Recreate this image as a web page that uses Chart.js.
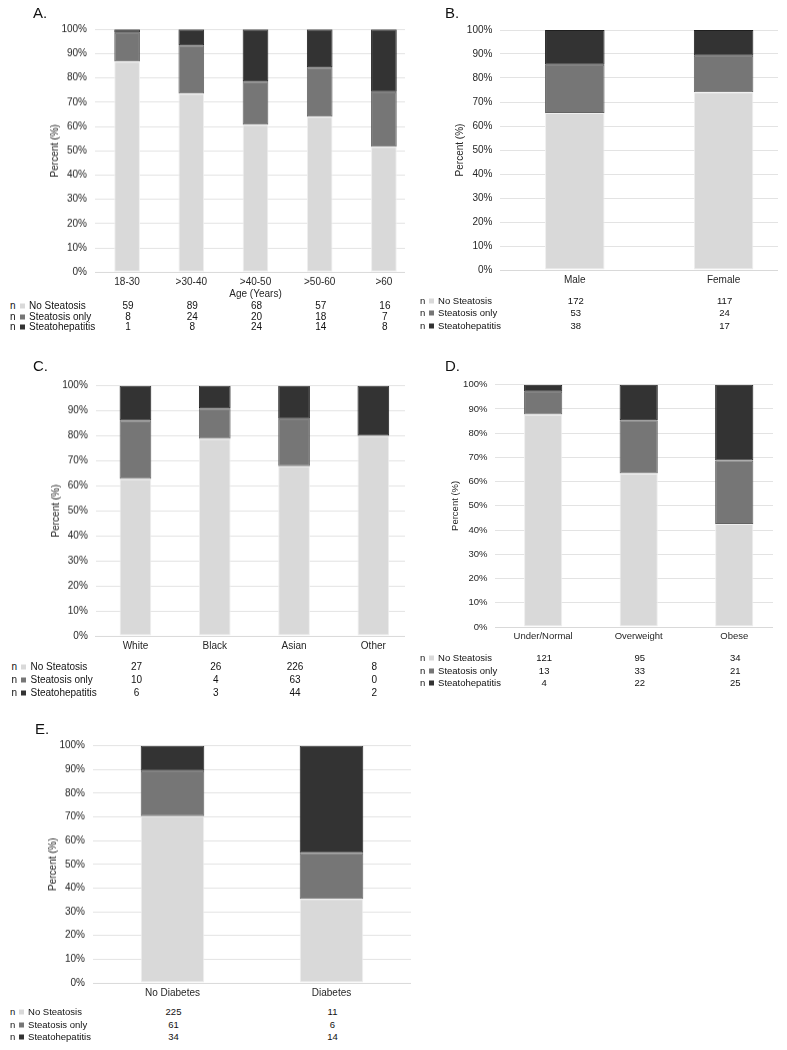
<!DOCTYPE html>
<html>
<head>
<meta charset="utf-8">
<script src="https://cdn.jsdelivr.net/npm/chart.js@4.4.0/dist/chart.umd.min.js"></script>
<style>
  body { margin: 0; background: #fff; font-family: "Liberation Sans", Arial, sans-serif; color: #111; }
  #page { position: relative; width: 787px; height: 1050px; overflow: hidden; }
  .wrap { position: absolute; overflow: hidden; }
  .wrap canvas { position: absolute; left: 0; top: 0; }
  .txt { position: absolute; white-space: nowrap; line-height: 1; transform: translateY(-50%); }
  .val { position: absolute; white-space: nowrap; line-height: 1; transform: translate(-50%, -50%); }
  .sw { position: absolute; width: 5px; height: 5px; transform: translateY(-50%); }
</style>
</head>
<body>
<div id="page"></div>
<script>
// table rows / stack order (bottom to top)
const seriesNames = ['No Steatosis', 'Steatosis only', 'Steatohepatitis'];
const percentTicks = [0, 10, 20, 30, 40, 50, 60, 70, 80, 90, 100];

// A. age
const ageLabels = ['18-30', '>30-40', '>40-50', '>50-60', '>60'];
const ageNoSteatosis = [59, 89, 68, 57, 16];
const ageSteatosisOnly = [8, 24, 20, 18, 7];
const ageSteatohepatitis = [1, 8, 24, 14, 8];

// B. sex
const sexLabels = ['Male', 'Female'];
const sexNoSteatosis = [172, 117];
const sexSteatosisOnly = [53, 24];
const sexSteatohepatitis = [38, 17];

// C. race
const raceLabels = ['White', 'Black', 'Asian', 'Other'];
const raceNoSteatosis = [27, 26, 226, 8];
const raceSteatosisOnly = [10, 4, 63, 0];
const raceSteatohepatitis = [6, 3, 44, 2];

// D. BMI
const bmiLabels = ['Under/Normal', 'Overweight', 'Obese'];
const bmiNoSteatosis = [121, 95, 34];
const bmiSteatosisOnly = [13, 33, 21];
const bmiSteatohepatitis = [4, 22, 25];

// E. diabetes
const dmLabels = ['No Diabetes', 'Diabetes'];
const dmNoSteatosis = [225, 11];
const dmSteatosisOnly = [61, 6];
const dmSteatohepatitis = [34, 14];

const fills = ['#d9d9d9', '#767676', '#333333'];
const edges = ['#efefef', '#636363', '#1f1f1f'];
const FONT = '"Liberation Sans", Arial, sans-serif';
const TEXT = '#262626';

// fs = axis text size, ts = table text size
const panels = [
  { name: 'A.', labels: ageLabels, counts: [ageNoSteatosis, ageSteatosisOnly, ageSteatohepatitis], xTitle: 'Age (Years)',
    wrap: { l: 0, t: 0, r: 405 }, plot: { l: 95, r: 416, t: 29.3, b: 271.7 }, bottom: 299.5, fs: 10, ts: 10,
    head: [33, 12], rows: [306, 316.5, 327], rowX: 10 },
  { name: 'B.', labels: sexLabels, counts: [sexNoSteatosis, sexSteatosisOnly, sexSteatohepatitis],
    wrap: { l: 410, t: 0, r: 778 }, plot: { l: 500.4, r: 798, t: 30, b: 270 }, fs: 10, ts: 9.5,
    head: [445, 12], rows: [300.5, 313, 326], rowX: 420 },
  { name: 'C.', labels: raceLabels, counts: [raceNoSteatosis, raceSteatosisOnly, raceSteatohepatitis],
    wrap: { l: 0, t: 352, r: 405 }, plot: { l: 95.8, r: 413, t: 385.7, b: 635.7 }, fs: 10, ts: 10,
    head: [33, 365], rows: [666.7, 680, 693.3], rowX: 11.5 },
  { name: 'D.', labels: bmiLabels, counts: [bmiNoSteatosis, bmiSteatosisOnly, bmiSteatohepatitis],
    wrap: { l: 410, t: 352, r: 773 }, plot: { l: 495.4, r: 782, t: 384.7, b: 627.3 }, fs: 9.5, ts: 9.5,
    head: [445, 365], rows: [658.3, 671, 683.3], rowX: 420 },
  { name: 'E.', labels: dmLabels, counts: [dmNoSteatosis, dmSteatosisOnly, dmSteatohepatitis],
    wrap: { l: 0, t: 715, r: 411 }, plot: { l: 93, r: 411, t: 745.7, b: 982.7 }, fs: 10, ts: 9.5,
    head: [35, 728], rows: [1012.3, 1025, 1037.3], rowX: 10 }
];

// share of each group, in percent
function toPercent(counts) {
  return counts.map(series => series.map((v, i) => {
    let total = 0;
    counts.forEach(s => { total += s[i]; });
    return 100 * v / total;
  }));
}

const page = document.getElementById('page');

function addText(text, x, y, size, cls) {
  const el = document.createElement('div');
  el.className = cls;
  el.textContent = text;
  el.style.left = x + 'px';
  el.style.top = y + 'px';
  el.style.fontSize = size + 'px';
  page.appendChild(el);
  return el;
}

panels.forEach(p => {
  const bottom = p.bottom || p.plot.b + 20;
  const H = bottom - p.wrap.t;
  const W = p.plot.r + 2 - p.wrap.l;

  const wrap = document.createElement('div');
  wrap.className = 'wrap';
  wrap.style.left = p.wrap.l + 'px';
  wrap.style.top = p.wrap.t + 'px';
  wrap.style.width = (p.wrap.r - p.wrap.l) + 'px';
  wrap.style.height = H + 'px';
  const cv = document.createElement('canvas');
  cv.width = W; cv.height = H;
  cv.style.width = W + 'px'; cv.style.height = H + 'px';
  wrap.appendChild(cv);
  page.appendChild(wrap);

  const lh = p.fs * 1.2;
  const padLeft = p.plot.l - p.wrap.l - 40 - lh / 2;
  const pct = toPercent(p.counts);

  const chart = new Chart(cv, {
    type: 'bar',
    data: {
      labels: p.labels,
      datasets: seriesNames.map((n, k) => ({
        label: n,
        data: pct[k],
        backgroundColor: fills[k],
        borderColor: edges[k],
        borderWidth: 1,
        borderSkipped: false,
        barPercentage: 0.4,
        categoryPercentage: 1
      }))
    },
    options: {
      responsive: false,
      animation: false,
      devicePixelRatio: 1,
      layout: { padding: { left: padLeft, top: p.plot.t - p.wrap.t, right: 2, bottom: 0 } },
      plugins: { legend: { display: false }, tooltip: { enabled: false } },
      scales: {
        x: {
          stacked: true,
          grid: { display: false, drawTicks: false },
          border: { display: true, color: '#d9d9d9' },
          ticks: { color: TEXT, font: { family: FONT, size: p.fs }, padding: 4, maxRotation: 0, autoSkip: false },
          title: { display: !!p.xTitle, text: p.xTitle || '', color: TEXT, font: { family: FONT, size: p.fs }, padding: 0 },
          afterFit: s => { s.height = H - (p.plot.b - p.wrap.t); }
        },
        y: {
          stacked: true,
          min: 0,
          max: 100,
          grid: { color: '#e3e3e3', drawTicks: false },
          border: { display: false },
          afterBuildTicks: s => { s.ticks = percentTicks.map(v => ({ value: v })); },
          ticks: { color: TEXT, font: { family: FONT, size: p.fs }, padding: 8, autoSkip: false, callback: v => v + '%' },
          title: { display: true, text: 'Percent (%)', color: TEXT, font: { family: FONT, size: p.fs }, padding: 0 },
          afterFit: s => { s.width = p.plot.l - p.wrap.l - padLeft; }
        }
      }
    }
  });

  // panel letter
  addText(p.name, p.head[0], p.head[1], 15, 'txt');

  // data table under the chart
  const xs = chart.scales.x;
  p.rows.forEach((y, k) => {
    addText('n', p.rowX, y, p.ts, 'txt');
    const sw = document.createElement('div');
    sw.className = 'sw';
    sw.style.left = (p.rowX + p.ts * 0.95) + 'px';
    sw.style.top = y + 'px';
    sw.style.background = fills[k];
    page.appendChild(sw);
    addText(seriesNames[k], p.rowX + p.ts * 1.9, y, p.ts, 'txt');
    p.counts[k].forEach((v, i) => {
      addText(String(v), p.wrap.l + xs.getPixelForValue(i) + 1, y, p.ts, 'val');
    });
  });
});
</script>
</body>
</html>
